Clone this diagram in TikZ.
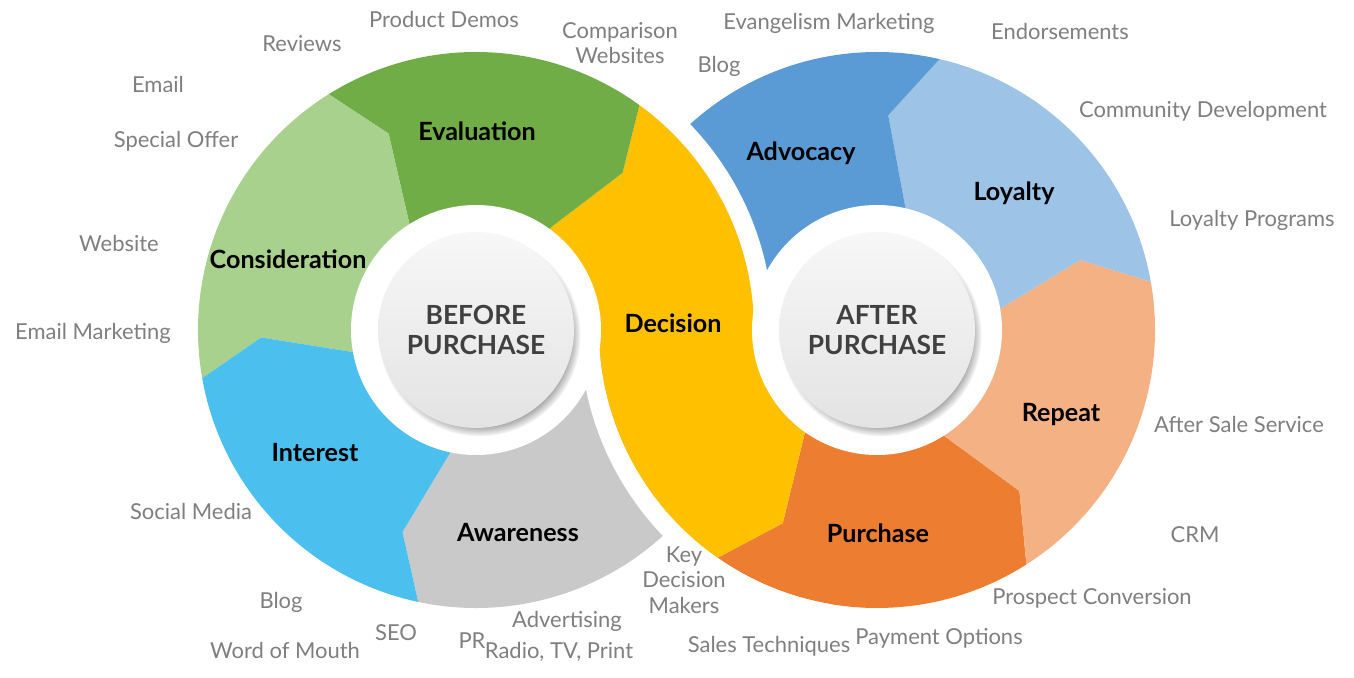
\documentclass[tikz,border=0pt]{standalone}
\usepackage{fontspec}
\setmainfont{Lato}
\usetikzlibrary{shadows}

\definecolor{evalg}{HTML}{70AD47}
\definecolor{consid}{HTML}{A9D18E}
\definecolor{inter}{HTML}{4BBFEE}
\definecolor{aware}{HTML}{C9C9C9}
\definecolor{decis}{HTML}{FFC000}
\definecolor{advoc}{HTML}{5B9BD5}
\definecolor{loyal}{HTML}{9DC3E6}
\definecolor{rept}{HTML}{F4B183}
\definecolor{purch}{HTML}{ED7D31}
\definecolor{tch}{HTML}{7F7F7F}
\definecolor{hubtxt}{HTML}{404040}

\tikzset{
  stage/.style={font=\bfseries\fontsize{14.3}{17}\selectfont, text=black, inner sep=0pt},
  touch/.style={font=\fontsize{12.5}{14.5}\selectfont, text=tch, align=center, inner sep=0pt},
  hub/.style={circle, minimum size=3.92cm, inner sep=0pt, top color=white!97!black, bottom color=black!11,
              circular drop shadow={shadow xshift=2pt, shadow yshift=-3pt, shadow scale=1.03},
              font=\bfseries\fontsize{15}{17}\selectfont, text=hubtxt, align=center},
  gap/.style={draw=white, line width=0.38cm},
}
\newcommand{\ringpart}[5]{% colour, from, kink at from, to, kink at to
  \fill[#1] (0,0) -- (#2:126) -- (#3:215) -- (#2:278) arc[start angle=#2, end angle=#4, radius=278]
    -- (#5:215) -- (#4:126) -- cycle;
}

\begin{document}
\begin{tikzpicture}[x=0.02cm, y=0.02cm]
\useasboundingbox (0,0) rectangle (1354,677);

% ---------------- after purchase ring ----------------
\begin{scope}[shift={(877,347)}]
  \ringpart{purch}{235}{244}{302.5}{311.5}
  \ringpart{rept}{-57.5}{-48.5}{10}{19}
  \ringpart{loyal}{10}{19}{77}{87}
  \ringpart{advoc}{77}{87}{180}{180}
\end{scope}

% white gap round the left ring
\fill[white] (476,347) circle (297);

% ---------------- before purchase ring ----------------
\begin{scope}[shift={(476,347)}]
  \ringpart{aware}{258}{250}{358}{358}
  \ringpart{decis}{-5}{-5}{54}{47}
  \ringpart{evalg}{54}{47}{122}{114}
  \ringpart{consid}{122}{114}{190}{182}
  \ringpart{inter}{190}{182}{258}{250}
\end{scope}

% white gap round the right ring, then the rest of Decision
\begin{scope}[shift={(877,347)}]
  \draw[gap] (180:287.5) arc[start angle=180, end angle=260, radius=287.5];
  \ringpart{decis}{180}{180}{235}{244}
\end{scope}

% ---------------- hubs ----------------
\fill[white] (476,347) circle (125) (877,347) circle (125);
\node[hub] (before) at (476,347) {BEFORE\\PURCHASE};
\node[hub] (after) at (877,347) {AFTER\\PURCHASE};

% ---------------- stages ----------------
\foreach \x/\y/\t/\n in {477/546/Evaluation/eval, 288/418/Consideration/cons, 315/224/Interest/int,
    518/144/Awareness/awa, 673/354/Decision/dec, 801/524/Advocacy/adv, 1014/484/Loyalty/loy,
    1061/262/Repeat/rep, 878/144/Purchase/pur}
  \node[stage] (\n) at (\x,\y) {\t};

% ---------------- touch points ----------------
\foreach \x/\y/\t/\n in {444/657/Product Demos/demos, 620/634/{Comparison\\Websites}/compare,
    302/633/Reviews/reviews, 158/592/Email/email, 176/536/Special Offer/offer, 119/434/Website/website,
    93/344/Email Marketing/emailmk, 191/166/Social Media/social, 281/75/Blog/blogl,
    285/27/Word of Mouth/mouth, 396/44/SEO/seo, 472/36/PR/pr, 567/56/Advertising/advert,
    559/25/{Radio, TV, Print}/radio, 684/97/{Key\\Decision\\Makers}/keydm,
    769/31/Sales Techniques/sales, 939/39/Payment Options/payment, 1092/79/Prospect Conversion/prospect,
    1195/142/CRM/crm, 1239/253/After Sale Service/aftersale, 1252/457/Loyalty Programs/loyprog,
    1203/566/Community Development/community, 1060/645/Endorsements/endorse,
    829/654/Evangelism Marketing/evangel, 719/611/Blog/blogr}
  \node[touch] (\n) at (\x,\y) {\t};
\end{tikzpicture}
\end{document}
